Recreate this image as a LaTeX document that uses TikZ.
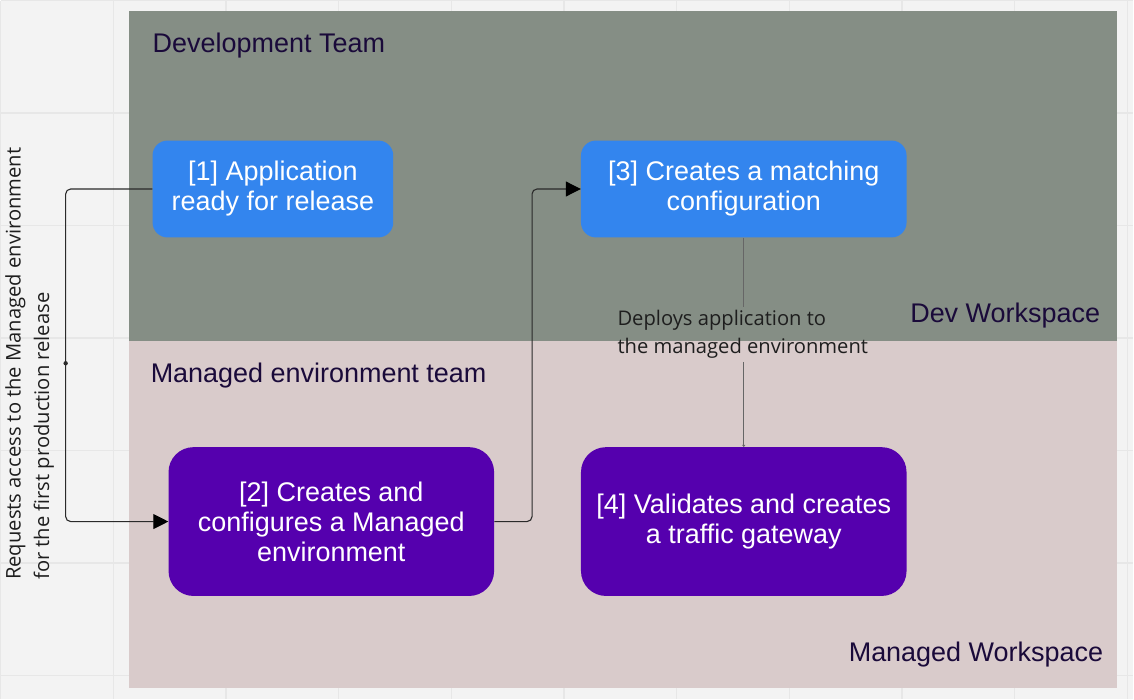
\documentclass[tikz,border=0pt]{standalone}
\usepackage{fontspec}
\setmainfont{Liberation Sans}
\newfontfamily\labelfont{Open Sans}
\usetikzlibrary{arrows.meta}
\definecolor{bggrid}{HTML}{F3F3F3}
\definecolor{gridline}{HTML}{E7E7E7}
\definecolor{devfill}{HTML}{858E85}
\definecolor{mgdfill}{HTML}{D9CBCB}
\definecolor{bluebox}{HTML}{3385EE}
\definecolor{purplebox}{HTML}{5500AE}
\definecolor{titletext}{HTML}{1A0A3A}
\definecolor{connector}{HTML}{2A2A2A}
\definecolor{connectorgray}{HTML}{666666}
\definecolor{labeltext}{HTML}{1E1E1E}
\tikzset{
  region/.style={fill=#1, draw=none, inner sep=0pt, anchor=north west, minimum width=990pt},
  titlelbl/.style={text=titletext, font=\fontsize{27}{30}\selectfont, inner sep=0pt},
  boxbase/.style={text=white, font=\fontsize{27}{30}\selectfont, align=center, inner sep=0pt, draw=none},
  devbox/.style={boxbase, fill=bluebox, rounded corners=15pt, minimum height=97pt},
  mgdbox/.style={boxbase, fill=purplebox, rounded corners=25pt, minimum width=326pt, minimum height=149pt},
  connlbl/.style={text=labeltext, font=\labelfont\fontsize{20.2}{28.5}\selectfont, align=left},
  conn/.style={draw=connector, line width=1.1pt, rounded corners=5pt},
  tip/.style={-{Triangle[length=15pt,width=15pt,fill=black,color=black]}}
}
\begin{document}
\begin{tikzpicture}[x=1pt,y=-1pt]
\fill[bggrid] (0,0) rectangle (1134,699);
\foreach \i in {0,...,10} \draw[gridline, line width=1.5pt] (\i*112.8,0) -- (\i*112.8,699);
\foreach \j in {0,...,6} \draw[gridline, line width=1.5pt] (0,\j*112.6) -- (1134,\j*112.6);
\useasboundingbox (0,0) rectangle (1134,699);

\node[region=devfill, minimum height=330pt] (dev) at (128,10) {};
\node[region=mgdfill, minimum height=348pt] (mgd) at (128,340) {};

\node[titlelbl, anchor=base west] (devtitle) at (152,52) {Development Team};
\node[titlelbl, anchor=base west] (mgdtitle) at (150,382) {Managed environment team};
\node[titlelbl, anchor=base east] (devws) at (1101,322) {Dev Workspace};
\node[titlelbl, anchor=base east] (mgdws) at (1104,662) {Managed Workspace};

\node[devbox, minimum width=241pt] (n1) at (272.5,188.5) {[1] Application\\ready for release};
\node[devbox, minimum width=326pt] (n3) at (744,188.5) {[3] Creates a matching\\configuration};
\node[mgdbox] (n2) at (331,521.5) {[2] Creates and\\configures a Managed\\environment};
\node[mgdbox] (n4) at (744,521.5) {[4] Validates and creates\\a traffic gateway};

% left connector
\coordinate (lx) at (65,363);
\draw[conn, tip] (n1.west) -- (n1.west -| lx) |- (n2.west);
\fill[connector] (lx) circle (2.2pt);
\node[connlbl, rotate=90, anchor=west, inner sep=0pt] (reqlbl) at (29,580)
  {Requests access to the Managed environment\\for the first production release};

% middle connector
\coordinate (rx) at (532,400);
\draw[conn, tip] (n2.east) -- (n2.east -| rx) |- (n3.west);

% vertical connector with label
\node[connlbl, inner xsep=0pt, inner ysep=3pt] (dlbl) at (743,334)
  {Deploys application to\\the managed environment};
\draw[draw=connectorgray, line width=1.1pt] (n3.south) -- (n3.south |- dlbl.north);
\draw[draw=connectorgray, line width=1.1pt, -{Triangle[length=2pt,width=3pt]}] (n4.north |- dlbl.south) -- (n4.north);
\end{tikzpicture}
\end{document}
